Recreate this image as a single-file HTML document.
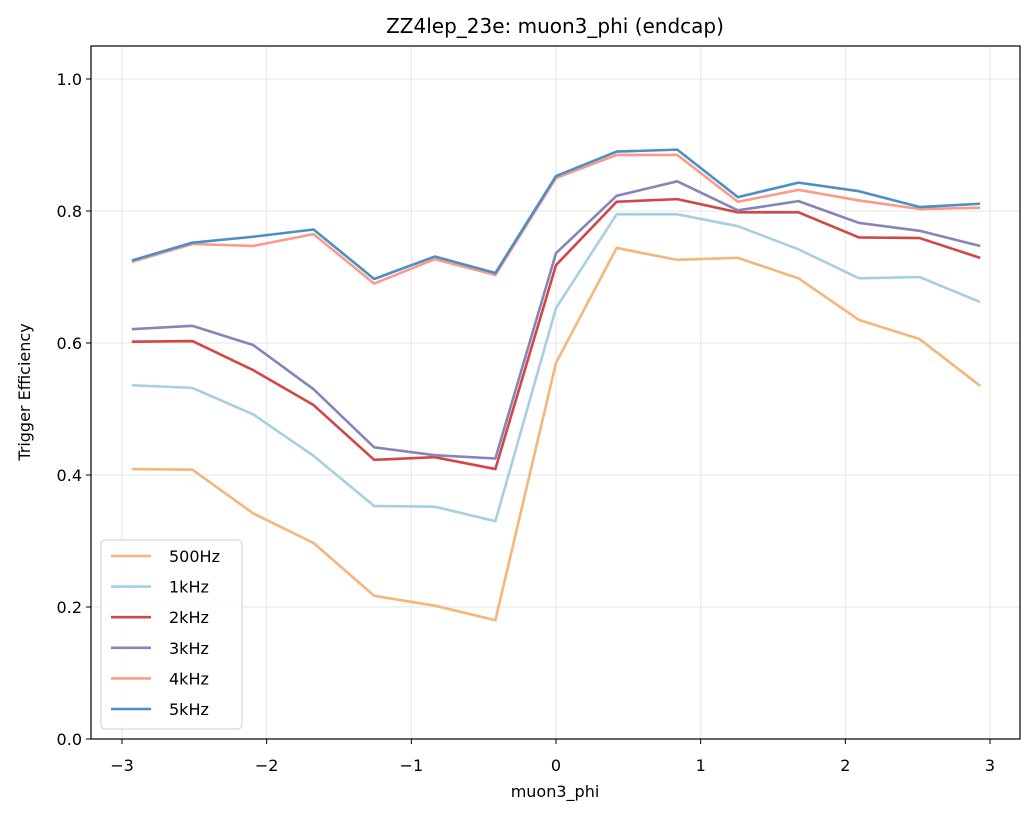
<!DOCTYPE html>
<html><head><meta charset="utf-8"><style>
body{margin:0;background:#fff;font-family:"Liberation Sans","DejaVu Sans",sans-serif}
svg text{font-family:"DejaVu Sans","Liberation Sans",sans-serif;fill:#000}
</style></head><body>
<svg id="chart" width="1036" height="818" xmlns="http://www.w3.org/2000/svg">
<rect width="1036" height="818" fill="#fff"/>
<g id="grid"></g><g id="series"></g><g id="axes"></g><g id="legend"></g>
<text x="555" y="33" font-size="20" text-anchor="middle">ZZ4lep_23e: muon3_phi (endcap)</text>
<text x="555" y="797" font-size="16" text-anchor="middle">muon3_phi</text>
<text transform="translate(30,392) rotate(-90)" font-size="16" text-anchor="middle">Trigger Efficiency</text>
</svg>
<script>
const xValues=[-2.932,-2.513,-2.094,-1.676,-1.257,-0.838,-0.419,0,0.419,0.838,1.257,1.676,2.094,2.513,2.932];
const s500=[0.409,0.408,0.342,0.297,0.217,0.202,0.180,0.570,0.744,0.726,0.729,0.698,0.635,0.606,0.535];
const s1k=[0.536,0.532,0.492,0.429,0.353,0.352,0.330,0.653,0.795,0.795,0.777,0.742,0.698,0.700,0.662];
const s2k=[0.602,0.603,0.559,0.506,0.423,0.427,0.409,0.718,0.814,0.818,0.798,0.798,0.760,0.759,0.729];
const s3k=[0.621,0.626,0.597,0.530,0.442,0.430,0.425,0.736,0.823,0.845,0.801,0.815,0.782,0.770,0.747];
const s4k=[0.723,0.750,0.747,0.765,0.690,0.727,0.703,0.850,0.885,0.885,0.814,0.832,0.816,0.803,0.805];
const s5k=[0.725,0.752,0.761,0.772,0.697,0.731,0.706,0.853,0.890,0.893,0.821,0.843,0.830,0.806,0.811];
const seriesNames=["500Hz","1kHz","2kHz","3kHz","4kHz","5kHz"];
const seriesData=[s500,s1k,s2k,s3k,s4k,s5k];
const colors=["#f4b67a","#a6d0e0","#d44546","#8584bb","#fc9a8a","#4a8fc5"];
const xTicks=[-3,-2,-1,0,1,2,3];
const xTickLabels=["\u22123","\u22122","\u22121","0","1","2","3"];
const yTicks=[0,0.2,0.4,0.6,0.8,1.0];
const yTickLabels=["0.0","0.2","0.4","0.6","0.8","1.0"];
const L=91,R=1020,T=46,B=739;
const X=v=>556+v*144.67, Y=v=>739-v*660;
const NS="http://www.w3.org/2000/svg";
function mk(t,a,p){const e=document.createElementNS(NS,t);for(const k in a)e.setAttribute(k,a[k]);p.appendChild(e);return e;}
const grid=document.getElementById('grid'),axes=document.getElementById('axes'),ser=document.getElementById('series'),leg=document.getElementById('legend');
xTicks.forEach((t,i)=>{
 const g=mk('line',{x1:X(t),x2:X(t),y1:T,y2:B,stroke:"#e6e6e6","stroke-width":1},grid);
 
 
 mk('line',{x1:X(t),x2:X(t),y1:B,y2:B+5,stroke:"#000"},axes);
 const tx=mk('text',{x:X(t),y:B+32,"font-size":16,"text-anchor":"middle"},axes);
 
 
 tx.textContent=xTickLabels[i];
});
yTicks.forEach((t,i)=>{
 const g=mk('line',{x1:L,x2:R,y1:Y(t),y2:Y(t),stroke:"#e6e6e6","stroke-width":1},grid);
 
 
 mk('line',{x1:L-5,x2:L,y1:Y(t),y2:Y(t),stroke:"#000"},axes);
 const tx=mk('text',{x:L-9,y:Y(t)+6,"font-size":16,"text-anchor":"end"},axes);
 
 
 tx.textContent=yTickLabels[i];
});
const fr=mk('rect',{x:L,y:T,width:R-L,height:B-T,fill:"none",stroke:"#000","stroke-width":1.2},axes);


seriesData.forEach((d,i)=>{
 const p=mk('polyline',{points:d.map((v,j)=>X(xValues[j])+","+Y(v)).join(" "),fill:"none",stroke:colors[i],"stroke-width":2.6,"stroke-linejoin":"round"},ser);
 
 
});
const lb=mk('rect',{x:101,y:540,width:141,height:189,rx:4,fill:"#fff","fill-opacity":0.85,stroke:"#ccc"},leg);


seriesNames.forEach((n,i)=>{
 const y=556+i*30.6;
 const l=mk('line',{x1:111,x2:151,y1:y,y2:y,stroke:colors[i],"stroke-width":2.6},leg);
 
 
 const t=mk('text',{x:169,y:y+6,"font-size":16},leg);
 
 
 t.textContent=n;
});
</script>
</body></html>
